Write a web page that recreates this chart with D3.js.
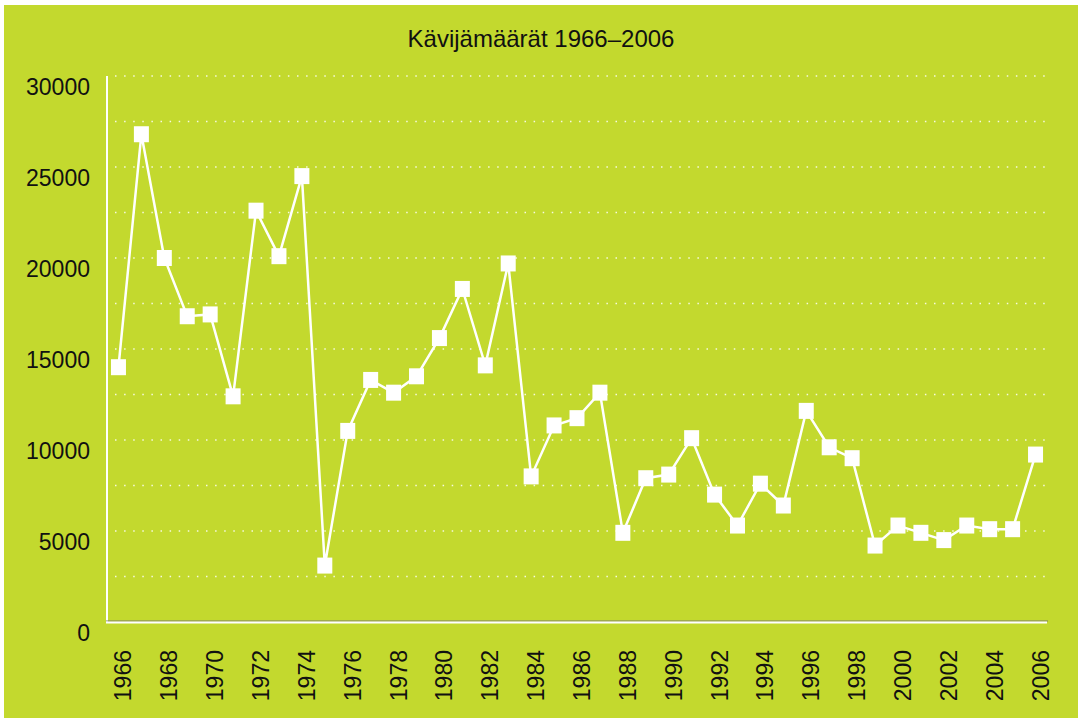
<!DOCTYPE html>
<html lang="fi">
  <head>
    <meta charset="UTF-8" />
    <title>Kävijämäärät 1966–2006</title>
    <script src="https://cdn.jsdelivr.net/npm/d3@7/dist/d3.min.js"></script>
    <style>
      body {
        margin: 0;
        background-color: #ffffff;
      }
      #visitors_chart text {
        font-family: "Liberation Sans", Arial, sans-serif;
        fill: #111111;
      }
    </style>
  </head>
  <body>
    <div id="visitors_chart"></div>

    <script>
      // Data
      const years = [
        1966, 1967, 1968, 1969, 1970, 1971, 1972, 1973, 1974, 1975, 1976,
        1977, 1978, 1979, 1980, 1981, 1982, 1983, 1984, 1985, 1986, 1987,
        1988, 1989, 1990, 1991, 1992, 1993, 1994, 1995, 1996, 1997, 1998,
        1999, 2000, 2001, 2002, 2003, 2004, 2005, 2006,
      ];
      const visitors = [
        14000, 26800, 20000, 16800, 16900, 12400, 22600, 20100, 24500, 3100,
        10500, 13300, 12600, 13500, 15600, 18300, 14100, 19700, 8000, 10800,
        11200, 12600, 4900, 7900, 8100, 10100, 7000, 5300, 7600, 6400, 11600,
        9600, 9000, 4200, 5300, 4900, 4500, 5300, 5100, 5100, 9200,
      ];
      const yTickLabels = [0, 5000, 10000, 15000, 20000, 25000, 30000];
      const gridValues = [
        2500, 5000, 7500, 10000, 12500, 15000, 17500, 20000, 22500, 25000,
        27500, 30000,
      ];
      const xTickLabels = [
        1966, 1968, 1970, 1972, 1974, 1976, 1978, 1980, 1982, 1984, 1986,
        1988, 1990, 1992, 1994, 1996, 1998, 2000, 2002, 2004, 2006,
      ];
      const title = "Kävijämäärät 1966–2006";

      plotGraph();

      function plotGraph() {
        const element_id = "div#visitors_chart";
        const width = 1078;
        const height = 723;

        const svg = d3
          .select(element_id)
          .append("svg")
          .attr("width", width)
          .attr("height", height);

        // green panel
        svg
          .append("rect")
          .attr("x", 4)
          .attr("y", 5)
          .attr("width", width - 4)
          .attr("height", 713)
          .attr("fill", "#c3d92e");

        const x = d3.scaleBand().domain(years).range([107, 1047]).padding(0);
        const cx = (d) => x(d) + x.bandwidth() / 2;
        const y = d3.scaleLinear().domain([0, 30000]).range([622, 76]);

        // title
        svg
          .append("text")
          .attr("x", 541)
          .attr("y", 47)
          .attr("text-anchor", "middle")
          .style("font-size", "24px")
          .text(title);

        // dotted grid
        svg
          .append("g")
          .selectAll("line")
          .data(gridValues)
          .join("line")
          .attr("x1", 115)
          .attr("x2", 1049)
          .attr("y1", (d) => y(d))
          .attr("y2", (d) => y(d))
          .attr("stroke", "#ffffff")
          .attr("stroke-opacity", 0.85)
          .attr("stroke-width", 1.5)
          .attr("stroke-dasharray", "1.5,7.6");

        // y labels
        svg
          .append("g")
          .selectAll("text")
          .data(yTickLabels)
          .join("text")
          .attr("x", 90)
          .attr("y", (d) => y(d) + 19)
          .attr("text-anchor", "end")
          .style("font-size", "23px")
          .text((d) => d);

        // x labels, rotated
        svg
          .append("g")
          .selectAll("text")
          .data(xTickLabels)
          .join("text")
          .attr("transform", (d) => `translate(${cx(d) + 13},650) rotate(-90)`)
          .attr("text-anchor", "end")
          .style("font-size", "23px")
          .text((d) => d);

        // axes
        svg
          .append("line")
          .attr("x1", 107)
          .attr("x2", 107)
          .attr("y1", 76)
          .attr("y2", 623)
          .attr("stroke", "#ffffff")
          .attr("stroke-width", 2);
        svg
          .append("line")
          .attr("x1", 106)
          .attr("x2", 1048)
          .attr("y1", 621)
          .attr("y2", 621)
          .attr("stroke", "#7a7a6a")
          .attr("stroke-width", 1);
        svg
          .append("line")
          .attr("x1", 106)
          .attr("x2", 1047)
          .attr("y1", 622.5)
          .attr("y2", 622.5)
          .attr("stroke", "#ffffff")
          .attr("stroke-width", 2);

        // line
        svg
          .append("path")
          .datum(years)
          .attr("fill", "none")
          .attr("stroke", "#ffffff")
          .attr("stroke-width", 2.5)
          .attr(
            "d",
            d3
              .line()
              .x((d) => cx(d))
              .y((d, i) => y(visitors[i]))
          );

        // square markers
        svg
          .append("g")
          .selectAll("rect")
          .data(years)
          .join("rect")
          .attr("x", (d) => cx(d) - 7.5)
          .attr("y", (d, i) => y(visitors[i]) - 8)
          .attr("width", 15)
          .attr("height", 16)
          .attr("fill", "#ffffff");
      }
    </script>
  </body>
</html>
